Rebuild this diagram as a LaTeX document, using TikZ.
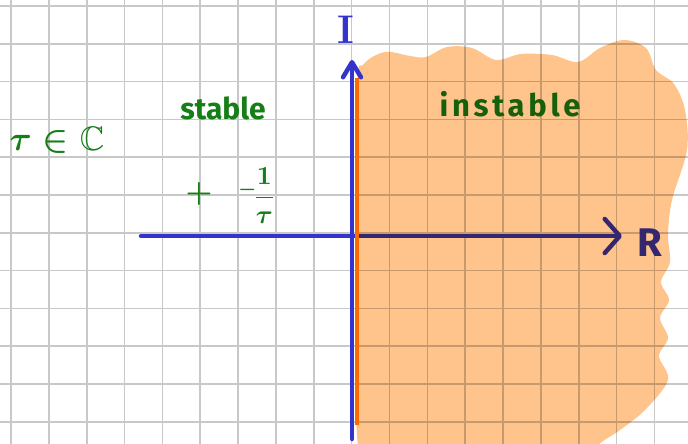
\documentclass[tikz,border=0pt]{standalone}
\usepackage{graphicx}
\usepackage{amsmath,amssymb}
\usepackage{fontspec}
\setsansfont{Fira Sans}
\usetikzlibrary{arrows.meta}
\definecolor{axisblue}{RGB}{52,52,204}
\definecolor{inkgreen}{RGB}{22,126,22}
\definecolor{blobfill}{RGB}{255,196,140}
\definecolor{edgeorange}{RGB}{255,106,0}
\definecolor{gridgray}{RGB}{200,200,200}
\newcommand{\bigmath}[2]{\scalebox{#1}{\boldmath$#2$}}
\tikzset{
  gridline/.style={draw=gridgray, line width=1.6pt},
  axis/.style={draw=axisblue, line width=4.5pt, line cap=round},
  axisarrow/.style={-{Straight Barb[round, length=15pt, width=#1]}},
  handtext/.style={text=inkgreen, font=\sffamily\bfseries\fontsize{30}{32}\selectfont, inner sep=0pt},
  axislabel/.style={text=axisblue, inner sep=0pt},
  mathtext/.style={text=inkgreen, inner sep=0pt}
}

\begin{document}
\begin{tikzpicture}[x=1pt, y=-1pt]
\useasboundingbox (0,0) rectangle (688,444);
\clip (0,0) rectangle (688,444);
\fill[white] (0,0) rectangle (688,444);
% squared paper
\foreach \k in {0,...,17}
  \draw[gridline] ({11+37.85*\k},0) -- ({11+37.85*\k},444);
\foreach \k in {0,...,11}
  \draw[gridline] (0,{6+37.8*\k}) -- (688,{6+37.8*\k});

\coordinate (origin) at (352,236);
\coordinate (reneg) at (141,236);
\coordinate (repos) at (622,236);
\coordinate (imneg) at (352,439);
\coordinate (impos) at (352,60);
\coordinate (edgetop) at (357,78);
\coordinate (edgebot) at (357,425);

\draw[axis, axisarrow=34pt] (reneg) -- (repos);
\node[axislabel, font=\sffamily\bfseries\fontsize{40}{42}\selectfont] (relabel) at (650,243) {R};
\node[handtext, font=\sffamily\bfseries\fontsize{31}{33}\selectfont\addfontfeatures{LetterSpace=12}] (instable) at (510,104) {instable};

% unstable half plane
\begin{scope}[blend mode=multiply]
\fill[blobfill] plot[smooth cycle, tension=0.55] coordinates {
  (357,90) (364,64) (385,52) (410,56) (426,57) (447,47) (472,48) (496,60)
  (521,54) (552,55) (578,62) (600,48) (624,40) (646,48) (656,70) (674,84)
  (685,110) (687,150) (672,200) (668,235) (670,262) (661,282) (669,300)
  (660,318) (668,338) (659,356) (668,380) (645,410) (620,430) (597,446)
  (580,470) (380,470) (358,445) (356,300)};
\end{scope}

\draw[edgeorange, line width=4pt] (edgetop) -- (edgebot);
\draw[axis, axisarrow=18pt] (imneg) -- (impos);
\node[axislabel, font=\bfseries\fontsize{40}{42}\selectfont] (imlabel) at (346,30) {I};

\node[handtext] (stable) at (223,108) {stable};
\node[mathtext] (tau) at (57,140) {\bigmath{3.4}{\tau\in\mathbb{C}}};
\node[mathtext] (plus) at (199,194) {\bigmath{3}{+}};
\node[mathtext] (pole) at (257,196) {\bigmath{2.6}{{}^{-}\!\dfrac{1}{\tau}}};
\end{tikzpicture}
\end{document}
